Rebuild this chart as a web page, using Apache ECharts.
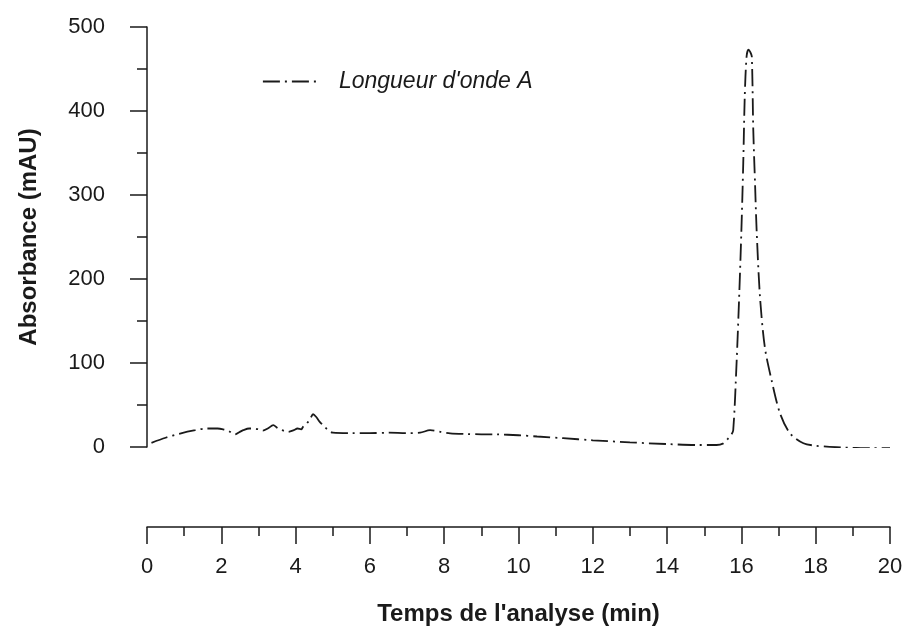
<!DOCTYPE html>
<html>
<head>
<meta charset="utf-8">
<script src="https://cdn.jsdelivr.net/npm/echarts@6/dist/echarts.min.js"></script>
<style>html,body{margin:0;padding:0;background:#fff}#c{width:906px;height:634px}</style>
</head>
<body>
<div id="c"></div>
<script>
var seriesName = "Longueur d'onde A";
var timeMin = [0.12,0.5,0.89,1.3,1.6,1.9,2.05,2.2,2.37,2.5,2.59,2.75,2.86,3.0,3.12,3.25,3.4,3.5,3.58,3.7,3.8,3.95,4.05,4.15,4.2,4.3,4.4,4.47,4.55,4.65,4.74,4.85,5.0,5.5,6.0,6.5,7.0,7.35,7.62,7.9,8.16,8.6,9.0,9.41,10.0,10.5,11.2,12.0,13.0,14.0,14.8,15.33,15.5,15.64,15.72,15.78,15.87,15.94,16.0,16.05,16.09,16.14,16.19,16.24,16.28,16.32,16.37,16.41,16.5,16.63,16.81,17.04,17.31,17.67,18.0,18.3,18.7,19.0,19.5,20.0];
var absorbance = [5,11,16,20,22,22,21,19,15,18,20,22,22,21,19.5,22,26,23,21,19,18,20,22,21,24,28,34,39,36,30,26,21,17,16.5,16.5,17,16.5,17,20,18,16.3,15.5,15.1,15,14,12.5,10.5,8,5.5,3.5,2.4,2.4,4,10,14,20,100,179,258,338,417,465,473,470,465,377,310,258,179,119,80,40,16.3,4.4,1.5,0.4,-0.5,-1,-1.5,-1.5];
var xTicks = [0,2,4,6,8,10,12,14,16,18,20];
var yTicks = [0,100,200,300,400,500];

var data = timeMin.map(function(t,i){return [t, absorbance[i]];});
var font = 'Liberation Sans, Arial, sans-serif';
var ink = '#1a1a1a';
var dash = [17,5,2,5];
var chart = echarts.init(document.getElementById('c'), null, {renderer:'canvas'});
chart.setOption({
  animation:false,
  backgroundColor:'#ffffff',
  grid:{left:147, right:16, top:27, bottom:187, containLabel:false},
  legend:{
    left:262, top:70, padding:0,
    itemWidth:56, itemHeight:24,
    data:[seriesName],
    itemStyle:{color:'rgba(0,0,0,0)', borderColor:'rgba(0,0,0,0)', borderWidth:0},
    lineStyle:{type:dash, width:1.8, color:ink},
    textStyle:{fontFamily:font, fontSize:23, fontStyle:'italic', color:ink, padding:[0,0,0,15]}
  },
  xAxis:{
    type:'value', min:xTicks[0], max:xTicks[xTicks.length-1], interval:2,
    offset:80,
    name:"Temps de l'analyse (min)", nameLocation:'middle', nameGap:75,
    nameTextStyle:{fontFamily:font, fontSize:24, fontWeight:'bold', color:ink},
    axisLine:{onZero:false, lineStyle:{color:ink, width:1.5}},
    axisTick:{length:17, lineStyle:{color:ink, width:1.5}},
    minorTick:{show:true, splitNumber:2, length:9, lineStyle:{color:ink, width:1.5}},
    axisLabel:{margin:29, fontFamily:font, fontSize:22, color:ink},
    splitLine:{show:false}
  },
  yAxis:{
    type:'value', min:yTicks[0], max:yTicks[yTicks.length-1], interval:100,
    name:'Absorbance (mAU)', nameLocation:'middle', nameGap:106,
    nameTextStyle:{fontFamily:font, fontSize:24, fontWeight:'bold', color:ink},
    axisLine:{show:true, lineStyle:{color:ink, width:1.5}},
    axisTick:{show:true, length:17, lineStyle:{color:ink, width:1.5}},
    minorTick:{show:true, splitNumber:2, length:10, lineStyle:{color:ink, width:1.5}},
    axisLabel:{margin:42, fontFamily:font, fontSize:22, color:ink},
    splitLine:{show:false}
  },
  series:[{
    name:seriesName, type:'line', data:data, smooth:0.3, symbol:'none',
    lineStyle:{color:ink, width:1.8, type:dash},
    itemStyle:{color:ink}
  }]
});
</script>
</body>
</html>
